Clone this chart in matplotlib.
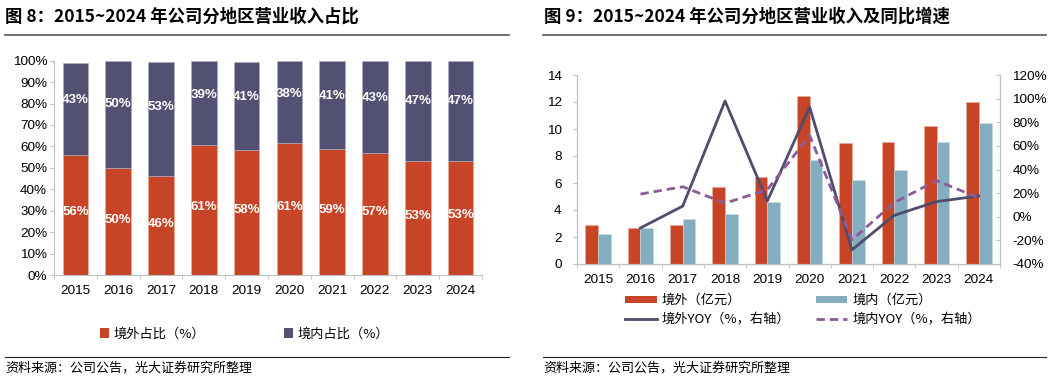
import matplotlib
matplotlib.use("Agg")
import matplotlib.pyplot as plt
from matplotlib.lines import Line2D
from matplotlib.patches import Patch
import numpy as np

plt.rcParams['font.family'] = ['Liberation Sans', 'Noto Sans CJK SC', 'DejaVu Sans']

years = ["2015", "2016", "2017", "2018", "2019", "2020", "2021", "2022", "2023", "2024"]

# 图8: 占比 (%)
share_out = [56.2, 49.8, 46.2, 60.8, 58.4, 61.4, 58.7, 56.8, 53.0, 53.4]
share_in = [42.8, 50.2, 53.4, 38.9, 41.1, 38.4, 41.1, 43.2, 47.0, 46.6]

# 图9: 营业收入 (亿元) 及同比
rev_out = [2.90, 2.66, 2.88, 5.69, 6.46, 12.45, 8.97, 9.07, 10.20, 12.00]
rev_in = [2.24, 2.66, 3.33, 3.72, 4.56, 7.72, 6.19, 6.93, 9.05, 10.48]
yoy_out = [np.nan, -9.5, 9.0, 98.0, 13.3, 92.8, -28.0, 1.2, 12.8, 17.6]
yoy_in = [np.nan, 19.2, 25.4, 11.5, 22.9, 68.8, -19.6, 12.0, 30.6, 16.0]

RED = "#C74426"
NAVY = "#535173"
LBLUE = "#84ADC0"
LINE_SOLID = "#4F4C6E"
LINE_DASH = "#8C5A96"
GRID = "#BFBFBF"
CJK = ['Noto Sans CJK SC', 'DejaVu Sans']
TS = 9.7

fig = plt.figure(figsize=(10.54, 3.78), dpi=100)
W, H = 1054, 378

# titles and rules
fig.text(5 / W, 1 - 17 / H, "图 8：2015~2024 年公司分地区营业收入占比", family=CJK,
         fontsize=12.5, fontweight="bold", va="center", ha="left")
fig.text(544 / W, 1 - 17 / H, "图 9：2015~2024 年公司分地区营业收入及同比增速", family=CJK,
         fontsize=12.5, fontweight="bold", va="center", ha="left")
fig.add_artist(Line2D([5 / W, 509 / W], [1 - 35 / H] * 2, color="#555555", lw=1.2))
fig.add_artist(Line2D([543 / W, 1046 / W], [1 - 35 / H] * 2, color="#555555", lw=1.2))
fig.add_artist(Line2D([5 / W, 509 / W], [1 - 357 / H] * 2, color="#222222", lw=0.8))
fig.add_artist(Line2D([543 / W, 1046 / W], [1 - 357 / H] * 2, color="#222222", lw=0.8))
fig.text(5 / W, 1 - 368 / H, "资料来源：公司公告，光大证券研究所整理", family=CJK,
         fontsize=9.4, va="center", ha="left")
fig.text(543 / W, 1 - 368 / H, "资料来源：公司公告，光大证券研究所整理", family=CJK,
         fontsize=9.4, va="center", ha="left")

# ---------- left chart ----------
ax1 = fig.add_axes([54 / W, 1 - 275 / H, 428 / W, 214.3 / H])
x = np.arange(len(years))
ax1.bar(x, share_out, width=0.6, color=RED, edgecolor="#E8B0A0", linewidth=0.4)
ax1.bar(x, share_in, width=0.6, bottom=share_out, color=NAVY, edgecolor="#B0AFC0", linewidth=0.4)
for i in range(len(years)):
    ax1.text(x[i], share_out[i] * 0.52, f"{share_out[i]:.0f}%", ha="center", va="center",
             color="white", fontweight="bold", fontsize=9.5)
    ax1.text(x[i], share_out[i] + share_in[i] * 0.6, f"{share_in[i]:.0f}%", ha="center", va="center",
             color="white", fontweight="bold", fontsize=9.5)
ax1.set_xlim(-0.5, 9.5)
ax1.set_ylim(0, 100)
ax1.set_yticks(range(0, 101, 10))
ax1.set_yticklabels([f"{v}%" for v in range(0, 101, 10)], fontsize=TS)
ax1.set_xticks(x)
ax1.set_xticklabels(years, fontsize=TS)
ax1.set_xticks(np.arange(-0.5, 10, 1), minor=True)
ax1.tick_params(axis="x", which="major", length=0, pad=7)
ax1.tick_params(axis="x", which="minor", length=3, color=GRID)
ax1.tick_params(axis="y", length=3, color=GRID, pad=2)
for s in ["top", "right"]:
    ax1.spines[s].set_visible(False)
for s in ["left", "bottom"]:
    ax1.spines[s].set_color(GRID)
    ax1.spines[s].set_linewidth(0.8)

leg1 = [Patch(facecolor=RED), Patch(facecolor=NAVY)]
fig.legend(leg1, ["境外占比（%）", "境内占比（%）"], ncol=2, frameon=False,
           loc="center left", bbox_to_anchor=(100 / W, 1 - 334 / H),
           prop={"family": CJK, "size": 9.5}, handlelength=0.7, handleheight=0.7,
           handletextpad=0.3, columnspacing=6.0, borderaxespad=0, borderpad=0)

# ---------- right chart ----------
ax2 = fig.add_axes([577 / W, 1 - 264 / H, 423 / W, 189 / H])
bw = 0.3
ax2.bar(x - bw / 2, rev_out, width=bw, color=RED, edgecolor="#E8B0A0", linewidth=0.4)
ax2.bar(x + bw / 2, rev_in, width=bw, color=LBLUE, edgecolor="#C8DCE6", linewidth=0.4)
ax2.set_xlim(-0.5, 9.5)
ax2.set_ylim(0, 14)
ax2.set_yticks(range(0, 15, 2))
ax2.set_yticklabels([str(v) for v in range(0, 15, 2)], fontsize=TS)
ax2.set_xticks(x)
ax2.set_xticklabels(years, fontsize=TS)
ax2.set_xticks(np.arange(-0.5, 10, 1), minor=True)
ax2.tick_params(axis="x", which="major", length=0, pad=7)
ax2.tick_params(axis="x", which="minor", length=3, color=GRID)
ax2.tick_params(axis="y", length=3, color=GRID, pad=8)
ax2.spines["top"].set_visible(False)
for s in ["left", "bottom", "right"]:
    ax2.spines[s].set_color(GRID)
    ax2.spines[s].set_linewidth(0.8)

ax3 = ax2.twinx()
ax3.plot(x, yoy_out, color=LINE_SOLID, lw=2.0)
ax3.plot(x, yoy_in, color=LINE_DASH, lw=2.0, dashes=(3, 1.8))
ax3.set_ylim(-40, 120)
ax3.set_yticks(range(-40, 121, 20))
ax3.set_yticklabels([f"{v}%" for v in range(-40, 121, 20)], fontsize=TS)
ax3.tick_params(axis="y", direction="in", length=3, color=GRID, pad=9)
ax3.spines["top"].set_visible(False)
for s in ["left", "bottom", "right"]:
    ax3.spines[s].set_color(GRID)
    ax3.spines[s].set_linewidth(0.8)

leg2 = [Patch(facecolor=RED), Patch(facecolor=LBLUE),
        Line2D([], [], color=LINE_SOLID, lw=2.0),
        Line2D([], [], color=LINE_DASH, lw=2.0, dashes=(3, 1.8))]
fig.legend([leg2[0], leg2[2], leg2[1], leg2[3]],
           ["境外（亿元）", "境外YOY（%，右轴）", "境内（亿元）", "境内YOY（%，右轴）"],
           ncol=2, frameon=False, loc="upper left", bbox_to_anchor=(625 / W, 1 - 294 / H),
           prop={"family": CJK, "size": 9.5}, handlelength=2.4, handleheight=0.5,
           handletextpad=0.4, columnspacing=1.9, labelspacing=0.45, borderaxespad=0, borderpad=0)

fig.savefig("out.png", dpi=100)
